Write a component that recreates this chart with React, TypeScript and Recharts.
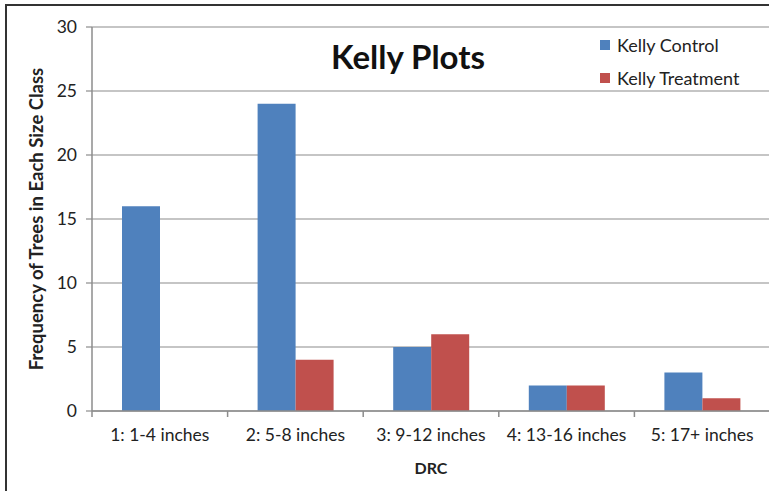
import React from 'react';
import { BarChart, Bar, XAxis, YAxis, CartesianGrid } from 'recharts';

const categories = ['1: 1-4 inches', '2: 5-8 inches', '3: 9-12 inches', '4: 13-16 inches', '5: 17+ inches'];
const kellyControl = [16, 24, 5, 2, 3];
const kellyTreatment = [0, 4, 6, 2, 1];
const yTicks = [0, 5, 10, 15, 20, 25, 30];
const seriesNames = ['Kelly Control', 'Kelly Treatment'];

const FONT = 'Lato, "Open Sans", sans-serif';
const BLUE = '#4F81BD';
const RED = '#C0504D';
const AXIS = '#8c8c8c';

const data = categories.map((name, i) => ({
  name,
  control: kellyControl[i],
  treatment: kellyTreatment[i],
}));

// plot spans 92..770 with 5 categories
const BAND = (770 - 92) / categories.length;

const XTick = (props: any) => {
  const { x, y, payload, index } = props;
  return (
    <g>
      <line x1={x - BAND / 2} y1={y - 8} x2={x - BAND / 2} y2={y - 2} stroke={AXIS} strokeWidth={1.5} />
      {index === categories.length - 1 && (
        <line x1={x + BAND / 2} y1={y - 8} x2={x + BAND / 2} y2={y - 2} stroke={AXIS} strokeWidth={1.5} />
      )}
      <text x={x} y={y + 22} textAnchor="middle" fontSize={17.5} fill="#222" fontFamily={FONT}>
        {payload.value}
      </text>
    </g>
  );
};

export default function App() {
  const colors = [BLUE, RED];
  return (
    <div style={{ position: 'absolute', left: 0, top: 0, width: 769, height: 491, overflow: 'hidden', background: '#fff' }}>
      <div style={{ position: 'absolute', left: 5, top: 4, width: 800, height: 520, border: '2px solid #333', boxSizing: 'border-box' }} />
      <div style={{ position: 'absolute', left: 0, top: 0 }}>
        <BarChart
          width={771}
          height={491}
          data={data}
          margin={{ top: 27, right: 1, bottom: 0, left: 0 }}
          barGap={0}
          barSize={38}
        >
          <CartesianGrid vertical={false} stroke={AXIS} strokeWidth={1.2} />
          <XAxis
            dataKey="name"
            height={80}
            axisLine={{ stroke: AXIS, strokeWidth: 1.5 }}
            tickLine={false}
            tick={<XTick />}
            interval={0}
            label={{ value: 'DRC', position: 'insideBottom', offset: 17, style: { fontFamily: FONT, fontSize: 16, fontWeight: 'bold', fill: '#222' } }}
          />
          <YAxis
            width={92}
            domain={[0, 30]}
            ticks={yTicks}
            interval={0}
            axisLine={{ stroke: AXIS, strokeWidth: 1.5 }}
            tickLine={{ stroke: AXIS, strokeWidth: 1.2 }}
            tickSize={6}
            tickMargin={9}
            tick={{ fontFamily: FONT, fontSize: 17.5, fill: '#222' }}
            label={{
              value: 'Frequency of Trees in Each Size Class',
              angle: -90,
              position: 'insideLeft',
              offset: 36,
              style: { textAnchor: 'middle', fontFamily: FONT, fontSize: 18.5, fontWeight: 'bold', fill: '#222' },
            }}
          />
          <Bar dataKey="control" name={seriesNames[0]} fill={BLUE} isAnimationActive={false} />
          <Bar dataKey="treatment" name={seriesNames[1]} fill={RED} isAnimationActive={false} />
        </BarChart>
      </div>
      <div style={{ position: 'absolute', left: 600, top: 28, fontFamily: FONT, fontSize: 18, color: '#222' }}>
        {seriesNames.map((n, i) => (
          <div key={n} style={{ display: 'flex', alignItems: 'center', height: 33 }}>
            <span style={{ width: 10, height: 10, background: colors[i], marginRight: 7, display: 'inline-block' }} />
            {n}
          </div>
        ))}
      </div>
      <div
        style={{
          position: 'absolute',
          left: 331,
          top: 36,
          fontFamily: FONT,
          fontSize: 33,
          fontWeight: 'bold',
          color: '#111',
        }}
      >
        Kelly Plots
      </div>
    </div>
  );
}
